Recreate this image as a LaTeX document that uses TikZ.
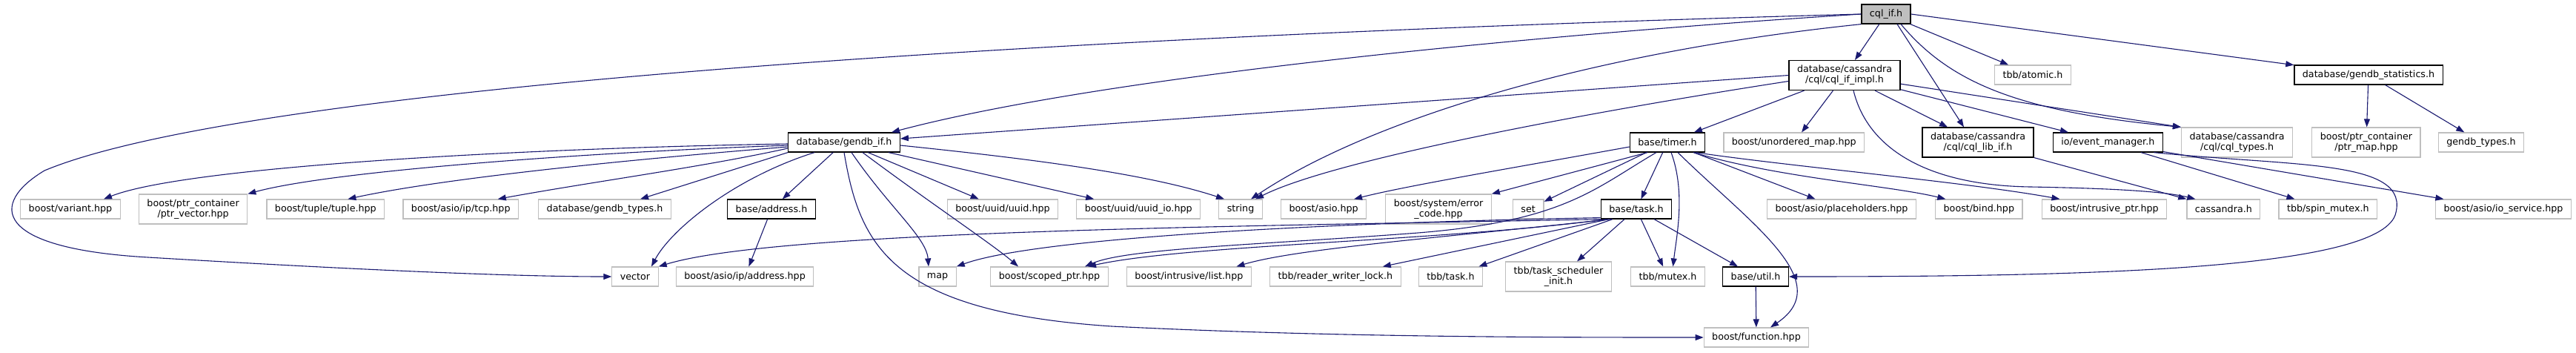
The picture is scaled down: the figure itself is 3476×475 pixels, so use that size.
\documentclass[tikz,border=0pt]{standalone}
\usepackage{fontspec}
\setmainfont{DejaVu Sans}
\usepackage{xcolor}
\definecolor{cEdge}{HTML}{191970}
\definecolor{cGrey}{HTML}{BFBFBF}
\usepackage{tikz}
\usetikzlibrary{arrows.meta, positioning}
\tikzset{
  inc/.style  = {rectangle, draw=cGrey, line width=1.2pt, fill=white,
                 inner xsep=11pt, inner ysep=2pt, minimum height=#1,
                 align=center, font=\fontsize{12.7}{14.3}\selectfont},
  inc/.default = 26pt,
  doc/.style  = {inc=#1, draw=black},
  doc/.default = 26pt,
  root/.style = {doc, fill=cGrey},
  arr/.style  = {-{Triangle[length=11pt,width=8pt]}, draw=cEdge,
                 line width=1.1pt},
}

\begin{document}
\begin{tikzpicture}[x=1pt, y=-1pt]

  \fill[white] (0,0) rectangle (3476,475);
  \useasboundingbox (0,0) rectangle (3476,475);

  \node[root] (cqlif) at (2545,19) {cql\_if.h};

  \node[doc=40pt] (cqlimpl) at (2489,101.5)
        {database/cassandra\\/cql/cql\_if\_impl.h};
  \node[inc] (atomic) at (2743,101) {tbb/atomic.h};
  \node[doc] (stats)  at (3196,101) {database/gendb\_statistics.h};

  \node[doc] (gendbif) at (1139,192) {database/gendb\_if.h};
  \node[doc] (timer)   at (2250,192) {base/timer.h};
  \node[inc, right=24pt of timer] (umap) {boost/unordered\_map.hpp};
  \node[doc=40pt] (cqllib) at (2669,192)
        {database/cassandra\\/cql/cql\_lib\_if.h};
  \node[doc, right=25pt of cqllib] (emgr) {io/event\_manager.h};
  \node[inc=40pt, right=24pt of emgr] (cqltypes)
        {database/cassandra\\/cql/cql\_types.h};
  \node[inc=40pt, right=25pt of cqltypes] (ptrmap)
        {boost/ptr\_container\\/ptr\_map.hpp};
  \node[inc, right=23pt of ptrmap] (gtypes) {gendb\_types.h};

  \node[inc] (variant) at (95,282) {boost/variant.hpp};
  \node[inc=40pt, right=24pt of variant] (ptrvec)
        {boost/ptr\_container\\/ptr\_vector.hpp};
  \node[inc, right=25pt of ptrvec] (tuple)   {boost/tuple/tuple.hpp};
  \node[inc, right=24pt of tuple]  (tcp)     {boost/asio/ip/tcp.hpp};
  \node[inc, right=26pt of tcp]    (dbtypes) {database/gendb\_types.h};
  \node[doc] (address) at (1041,282) {base/address.h};
  \node[inc] (uuid) at (1353,282) {boost/uuid/uuid.hpp};
  \node[inc, right=24pt of uuid]   (uuidio) {boost/uuid/uuid\_io.hpp};
  \node[inc, right=24pt of uuidio] (string) {string};
  \node[inc, right=24pt of string] (asio)   {boost/asio.hpp};
  \node[inc=40pt, right=25pt of asio] (errcode)
        {boost/system/error\\\_code.hpp};
  \node[inc, right=28pt of errcode] (set) {set};
  \node[doc] (task) at (2208,282) {base/task.h};
  \node[inc] (placeh) at (2485,282) {boost/asio/placeholders.hpp};
  \node[inc, right=25pt of placeh]    (bind)      {boost/bind.hpp};
  \node[inc, right=25pt of bind]      (iptr)      {boost/intrusive\_ptr.hpp};
  \node[inc, right=26pt of iptr]      (cassandra) {cassandra.h};
  \node[inc, right=24pt of cassandra] (spinmtx)   {tbb/spin\_mutex.h};
  \node[inc] (iosvc) at (3378,282) {boost/asio/io\_service.hpp};

  \node[inc] (vector) at (857,373) {vector};
  \node[inc, right=23pt of vector] (ipaddr) {boost/asio/ip/address.hpp};
  \node[inc] (map)    at (1265,373) {map};
  \node[inc] (scoped) at (1416,373) {boost/scoped\_ptr.hpp};
  \node[inc, right=24pt of scoped] (ilist)   {boost/intrusive/list.hpp};
  \node[inc, right=24pt of ilist]  (rwlock)  {tbb/reader\_writer\_lock.h};
  \node[inc, right=23pt of rwlock] (tbbtask) {tbb/task.h};
  \node[inc=40pt] (tsi) at (2103,373) {tbb/task\_scheduler\\\_init.h};
  \node[inc, right=25pt of tsi]   (mutex) {tbb/mutex.h};
  \node[doc, right=23pt of mutex] (util)  {base/util.h};

  \node[inc] (function) at (2370,455) {boost/function.hpp};

  \draw[arr] (cqlif) -- (cqlimpl);
  \draw[arr] (cqlif) -- (atomic);
  \draw[arr] (cqlif.east) -- (stats);
  \draw[arr] ([xshift=15pt]cqlif.south) -- ([xshift=-19pt]cqllib.north);
  \draw[arr] ([xshift=20pt]cqlif.south) .. controls (2630,110) and (2720,150) .. (cqltypes.north west);
  \draw[arr] (cqlif.west) .. controls (2100,45) and (1500,100) .. ([xshift=-12pt]gendbif.north east);
  \draw[arr] (cqlif.west) .. controls (1200,55) and (300,130) .. (60,230)
             .. controls (-15,275) and (-10,335) .. (200,347)
             .. controls (500,365) and (700,373) .. (vector.west);
  \draw[arr] (cqlif.south west) .. controls (2150,70) and (1850,160) .. ([xshift=14pt]string.north);

  \draw[arr] (cqlimpl.west) -- ([yshift=5pt]gendbif.east);
  \draw[arr] ([yshift=-8pt]cqlimpl.west) .. controls (2150,150) and (1800,215) .. ([xshift=20pt]string.north);
  \draw[arr] (cqlimpl) -- (timer);
  \draw[arr] (cqlimpl) -- (umap);
  \draw[arr] (cqlimpl) -- (cqllib);
  \draw[arr] (cqlimpl) -- (emgr);
  \draw[arr] (cqlimpl) -- (cqltypes.north west);
  \draw[arr] ([xshift=12pt]cqlimpl.south) .. controls (2520,200) and (2600,250) .. (2740,252)
             .. controls (2850,254) and (2920,258) .. ([xshift=-38pt]cassandra.north);
  \draw[arr] (cqllib) -- (cassandra);

  \draw[arr] (emgr) -- (spinmtx);
  \draw[arr] (emgr) -- (iosvc);
  \draw[arr] ([xshift=62pt]emgr.south) .. controls (3100,225) and (3255,215) .. (3232,290)
             .. controls (3205,365) and (2800,373) .. (util.east);
  \draw[arr] (stats) -- (ptrmap);
  \draw[arr] (stats) -- (gtypes);

  \draw[arr] ([yshift=-2pt]gendbif.west) .. controls (700,200) and (250,225) .. ([xshift=45pt]variant.north);
  \draw[arr] ([yshift=-4pt]gendbif.west) .. controls (800,205) and (450,230) .. (ptrvec.north east);
  \draw[arr] ([yshift=-6pt]gendbif.west) .. controls (850,215) and (600,240) .. ([xshift=30pt]tuple.north);
  \draw[arr] ([yshift=-8pt]gendbif.west) .. controls (950,225) and (800,245) .. ([xshift=50pt]tcp.north);
  \draw[arr] (gendbif.south west) -- ([xshift=48pt]dbtypes.north);
  \draw[arr] (gendbif) -- (address);
  \draw[arr] ([xshift=-40pt]gendbif.south) .. controls (990,240) and (905,310) .. ([xshift=22pt]vector.north);
  \draw[arr] ([xshift=10pt]gendbif.south) .. controls (1200,280) and (1250,320) .. ([xshift=-12pt]map.north);
  \draw[arr] ([xshift=25pt]gendbif.south) .. controls (1250,270) and (1340,330) .. ([xshift=-42pt]scoped.north);
  \draw[arr] (gendbif.south) .. controls (1160,330) and (1200,420) .. (1500,440)
             .. controls (1800,455) and (2100,455) .. (function.west);
  \draw[arr] (gendbif) -- (uuid);
  \draw[arr] (gendbif) -- (uuidio);
  \draw[arr] ([yshift=-4pt]gendbif.east) .. controls (1400,215) and (1550,235) .. ([xshift=-22pt]string.north);
  \draw[arr] (address) -- (ipaddr);

  \draw[arr] ([yshift=-6pt]timer.west) .. controls (2050,225) and (1900,250) .. ([xshift=41pt]asio.north);
  \draw[arr] ([xshift=-27pt]timer.south) -- (errcode.north east);
  \draw[arr] (timer) -- (set);
  \draw[arr] (timer) -- (task);
  \draw[arr] ([xshift=5pt]timer.south) .. controls (2275,260) and (2262,320) .. ([xshift=7pt]mutex.north);
  \draw[arr] ([xshift=14pt]timer.south) .. controls (2360,300) and (2480,380) .. ([xshift=19pt]function.north);
  \draw[arr] (timer) -- (placeh);
  \draw[arr] ([xshift=35pt]timer.south) .. controls (2400,240) and (2550,250) .. ([xshift=-45pt]bind.north);
  \draw[arr] ([xshift=38pt]timer.south) .. controls (2420,225) and (2650,245) .. ([xshift=-60pt]iptr.north);
  \draw[arr] ([xshift=-15pt]timer.south) .. controls (2150,255) and (2110,300) .. (1900,315)
             .. controls (1700,330) and (1520,335) .. ([xshift=48pt]scoped.north);

  \draw[arr] (task.south west) .. controls (1700,305) and (1050,310) .. (vector.north east);
  \draw[arr] ([yshift=2pt]task.south west) .. controls (1800,300) and (1400,320) .. (map.north east);
  \draw[arr] ([xshift=8pt]task.south west) .. controls (1950,325) and (1600,330) .. ([xshift=52pt]scoped.north);
  \draw[arr] ([xshift=14pt]task.south west) .. controls (1950,320) and (1750,335) .. ([xshift=64pt]ilist.north);
  \draw[arr] ([xshift=-37pt]task.south) -- ([xshift=64pt]rwlock.north);
  \draw[arr] ([xshift=-32pt]task.south) -- ([xshift=38pt]tbbtask.north);
  \draw[arr] ([xshift=-16pt]task.south) -- ([xshift=25pt]tsi.north);
  \draw[arr] (task) -- (mutex);
  \draw[arr] (task) -- (util);
  \draw[arr] (util) -- (function);

\end{tikzpicture}
\end{document}
